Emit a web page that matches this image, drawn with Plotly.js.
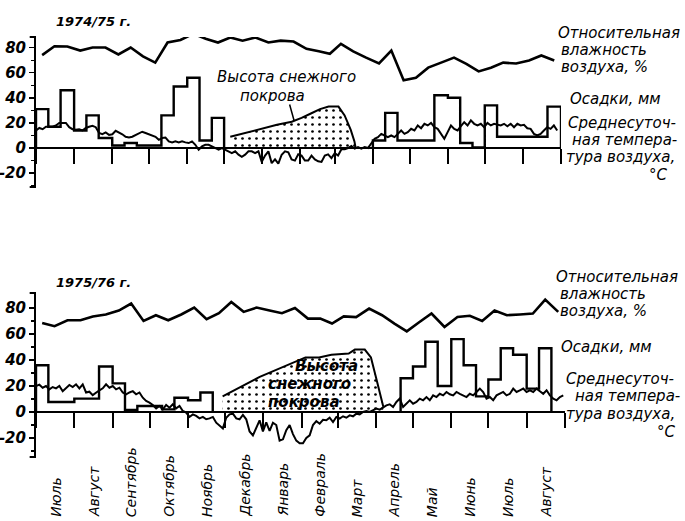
<!DOCTYPE html>
<html><head><meta charset="utf-8">
<script src="https://cdn.plot.ly/plotly-3.0.1.min.js"></script>
<style>html,body{margin:0;padding:0;background:#fff}</style>
</head><body><div id="chart" style="width:685px;height:521px"></div>
<script>
// ---------------- DATA ----------------
const monthLabels = ['Июль','Август','Сентябрь','Октябрь','Ноябрь','Декабрь','Январь','Февраль','Март','Апрель','Май','Июнь','Июль','Август'];
const yTickVals = [-20,0,20,40,60,80];
const yTickText = ['-20','0','20','40','60','80'];

// 10-day (decade) precipitation, mm — 42 decades Jul..Aug (null = not drawn)
const precipTop = [31,17,46, 14,26,8, 2,4,2, 2,26,49, 56,6,24,
  null,null,null, null,null,null, null,null,null, null,null,null,
  6,28,6, 6,6,42, 40,4,0.5, 34,9,9, 9,9,33];
const precipBot = [36,7.7,7.7, 10.3,10.3,35, 22,1.5,4.6, 4.6,2,11, 9,15,null,
  null,null,null, null,null,null, null,null,null, null,null,null,
  null,null,26, 35,54,20, 56,36,12, 25,49,44, 18,49,null];

// 10-day relative humidity, %
const humTop = [74,81,80.8, 77.6,80,80, 74.5,80,73, 68,84,86, 91,87,84, 88,85.5,88,
  84,85.5,84.8, 79,77,75, 83,77,72, 67.3,77.6,54, 56,64,68, 72,67,61, 64,68,67.3, 69.7,73.7,69.7];
const humBot = [68.5,66,70.5, 70.5,73.5,75, 78,83.4,70, 74.4,70.5,75, 80.3,71.3,76, 84.6,77,80.3,
  78,76,80, 71.8,71.8,68, 73.5,73,79.5, 74.4,68,62, 69,75.7,65.4, 73,74,70, 78,74.4,75, 75.7,86.4,77];

// mean daily air temperature, °C — read every 2.7 days from 1 July
const tempStepDays = 2.7;
const tempTop = [14,16,15,17,17,17,18,20,20,20,
  16.6,15,14.5,15,14,16,17,17.7,16.6,12,
  11,12.4,10.5,11,13.7,12.4,11,9,8.4,9,
  10.5,12,13,12,11,10.5,9,6.6,8,8.4,
  5.3,4.5,5.3,4.5,5.3,4.5,4,5.3,2.6,-1.3,
  1.3,2.6,2.6,1.3,0,-1.3,0,-1.3,-2.6,-4,
  -2.6,-5.3,-7,-5.3,-2.6,-2.6,-4,-2.6,-11,-6,
  -2.6,-12,-9,-12.4,-5.3,-2.6,-3.4,-9,-10,-5,
  -6,-10,-10,-6,-9,-10.5,-11,-6,-5,-8,
  -4,-6,-1,-1,0,1.6,-0.5,0.8,-0.5,0.8,
  0,3.4,7.4,8.7,11.3,10,8.7,10,8.7,11.3,
  14,11.3,12.7,15.3,14,18,15.8,19.3,18,20,
  16.6,15.3,11.3,7.4,12.7,18,15.3,14,17.4,20.6,
  18,22,19.3,18,19.3,16.6,20,18,19.3,18.5,
  18,19.3,17.4,19.3,16.6,19.3,18,18.5,15.8,15.3,
  11.3,10,11.3,14,16.6,15.3,18,14];
const tempBot = [20,21,18.7,20,17.4,19.2,18.2,20,16,18.7,
  20.8,19.2,21.3,18.2,21.3,15,15.6,13,15,16.7,
  18.2,21.3,18.7,20,17.4,18.7,15,13.6,15,16,
  13.6,15,11,8.5,7.2,5.4,2.8,4.6,2,5.4,
  3.3,5.9,2.8,4.6,0.8,-0.5,-3.8,-1.8,-3,-4.9,
  -3.8,-5.6,-4.9,-3.8,-8.2,-10.8,-12.6,-4.4,-1.8,-1.3,
  -4.9,-5.6,-2.3,-5.6,-15,-18,-12,-6.4,-15,-8,
  -14.6,-8.2,-10,-22,-21,-14,-10,-17,-22,-24,
  -24,-20,-18,-10,-7,-9,-6,-6.4,-4.4,-7.7,
  -3.8,-5,-3.3,-4.4,-2.6,-3.3,-1.3,-1.8,0,0.8,
  0,1.3,2.6,1.8,3.8,5.1,5.9,3.8,7.7,10.3,
  3.8,6.4,9,6.4,7.7,10.3,9,11.5,9,12.8,
  11.5,14,12.8,15.4,13.6,12.8,15.4,14,12.8,11.5,
  14,12.8,15.4,18,15.4,10.3,11.5,9,12.8,14,
  15.4,12.8,14,18,15.4,16.7,18,15.4,16.7,15.4,
  18,16,14,16.7,12.8,10.3,9,11.5,12.8];

// snow cover height (cm) outline
const snowTopDates = ['1974-12-06','1974-12-18','1975-01-01','1975-01-13','1975-01-25','1975-02-02','1975-02-10','1975-02-17','1975-02-24','1975-03-04','1975-03-09','1975-03-14','1975-03-17','1975-03-18'];
const snowTopVals  = [9,12,15.8,18.5,21,24,27.7,31,33,33,26,14.5,5.3,0];
const snowBotDates = ['1975-11-29','1975-12-13','1975-12-29','1976-01-08','1976-01-22','1976-02-04','1976-02-15','1976-02-25','1976-03-10','1976-03-15','1976-03-23','1976-03-28','1976-04-01','1976-04-05','1976-04-07'];
const snowBotVals  = [12,19,27,31,37,42,42,44,45,48,48,42,27,12,4];

// ---------------- HELPERS ----------------
const DAY = 86400000;
const iso = ms => new Date(ms).toISOString().slice(0,19).replace('T',' ');
function monthStarts(y0){ const a=[]; for(let m=0;m<=14;m++){ a.push(Date.UTC(y0, 6+m, 1)); } return a; }
function decades(y0){
  const d=[];
  for(let m=0;m<14;m++){
    const s=[Date.UTC(y0,6+m,1),Date.UTC(y0,6+m,11),Date.UTC(y0,6+m,21),Date.UTC(y0,7+m,1)];
    for(let k=0;k<3;k++) d.push({start:s[k], end:s[k+1]});
  }
  return d;
}
function stepXY(vals, dec){
  const xs=[], ys=[]; let open=false;
  for(let i=0;i<vals.length;i++){
    const v=vals[i];
    if(v===null){
      if(open){ xs.push(iso(dec[i-1].end), iso(dec[i-1].end), null); ys.push(vals[i-1], 0, null); open=false; }
      continue;
    }
    if(!open){ xs.push(iso(dec[i].start)); ys.push(0); open=true; }
    xs.push(iso(dec[i].start)); ys.push(v);
  }
  if(open){ const L=vals.length-1; xs.push(iso(dec[L].end), iso(dec[L].end)); ys.push(vals[L], 0); }
  return {xs, ys};
}
const FONT = 'DejaVu Sans, Liberation Sans, sans-serif';
const W = 685, H = 521;

function panel(y0, prec, hum, temp, sDates, sVals, xa, ya){
  const dec = decades(y0);
  const st = stepXY(prec, dec);
  const t0 = Date.UTC(y0,6,1);
  return [
    {type:'scatter', mode:'lines', x:sDates, y:sVals, xaxis:xa, yaxis:ya, fill:'tozeroy',
      fillcolor:'rgba(0,0,0,0)',
      fillpattern:{shape:'.', fgcolor:'#000', bgcolor:'rgba(255,255,255,0)', size:7, solidity:0.12},
      line:{color:'#000', width:2}, hoverinfo:'skip'},
    {type:'scatter', mode:'lines', x:st.xs, y:st.ys, xaxis:xa, yaxis:ya, connectgaps:false,
      line:{color:'#000', width:2.4, shape:'hv'}},
    {type:'scatter', mode:'lines', x:dec.map(d=>iso((d.start+d.end)/2)), y:hum, xaxis:xa, yaxis:ya,
      line:{color:'#000', width:2.6}},
    {type:'scatter', mode:'lines', x:temp.map((v,k)=>iso(t0 + k*tempStepDays*DAY)), y:temp, xaxis:xa, yaxis:ya,
      line:{color:'#000', width:2}}
  ];
}

const data = [].concat(
  panel(1974, precipTop, humTop, tempTop, snowTopDates, snowTopVals, 'x', 'y'),
  panel(1975, precipBot, humBot, tempBot, snowBotDates, snowBotVals, 'x2', 'y2')
);

function yAxis(domain, range, anchor){
  return {domain, range, anchor, showline:true, linewidth:2, linecolor:'#000', mirror:false,
    ticks:'outside', ticklen:5, tickwidth:1.5, tickcolor:'#000',
    tickmode:'array', tickvals:yTickVals, ticktext:yTickText,
    minor:{tickmode:'array', tickvals:[-30,-10,10,30,50,70], ticks:'outside', ticklen:3, tickwidth:1.2, tickcolor:'#000'},
    showgrid:false, zeroline:false, fixedrange:true,
    tickfont:{family:FONT, size:15, color:'#000', style:'italic', weight:'bold'}};
}
function xAxis(domain, y0, yDom, yRange){
  const ms = monthStarts(y0);
  const pos = yDom[0] + (0 - yRange[0])/(yRange[1]-yRange[0])*(yDom[1]-yDom[0]);
  return {type:'date', domain, range:[iso(ms[0]), iso(ms[14])], anchor:'free', position:pos,
    showline:true, linewidth:2, linecolor:'#000', ticks:'outside', ticklen:15, tickwidth:2, tickcolor:'#000',
    tickmode:'array', tickvals:ms.map(iso), showticklabels:false, showgrid:false, zeroline:false, fixedrange:true};
}

const yDomTop = [1-187/H, 1-37/H], yRangeTop = [-31, 88.4];
const yDomBot = [1-457/H, 1-293/H], yRangeBot = [-34.6, 91.5];

const ann = [];
function txt(text, px, py, opts){
  ann.push(Object.assign({text, xref:'paper', yref:'paper', x:px/W, y:1-py/H, showarrow:false,
    xanchor:'left', yanchor:'middle', font:{family:FONT, size:15, color:'#000', style:'italic'}}, opts||{}));
}
const bold15 = {family:FONT, size:15, color:'#000', style:'italic', weight:'bold'};
// period titles
txt('1974/75 г.', 54, 22, {font:{family:FONT, size:13, color:'#000', style:'italic', weight:'bold'}});
txt('1975/76 г.', 54, 282, {font:{family:FONT, size:13, color:'#000', style:'italic', weight:'bold'}});
// right-hand legends, top panel
txt('Относительная', 556, 33); txt('влажность', 559, 50); txt('воздуха, %', 559, 67);
txt('Осадки, мм', 568, 99);
txt('Среднесуточ-', 566, 123); txt('ная темпера-', 570, 140); txt('тура воздуха,', 564, 157);
txt('°C', 670, 175, {xanchor:'right'});
// right-hand legends, bottom panel
txt('Относительная', 554, 277); txt('влажность', 558, 294); txt('воздуха, %', 558, 311);
txt('Осадки, мм', 559, 347);
txt('Среднесуточ-', 564, 379); txt('ная темпера-', 573, 396); txt('тура воздуха,', 564, 414);
txt('°C', 678, 432, {xanchor:'right'});
// snow labels
txt('Высота снежного', 286, 77, {xanchor:'center'});
txt('покрова', 272, 96, {xanchor:'center'});
txt('Высота', 326, 366, {xanchor:'center', font:bold15});
txt('снежного', 309, 384, {xanchor:'center', font:bold15});
txt('покрова', 304, 402, {xanchor:'center', font:bold15});
// pointer from label to snow outline (top)
ann.push({xref:'x', yref:'y', x:'1975-01-27', y:21.5, text:'', showarrow:true, arrowhead:0, arrowwidth:1.5,
  arrowcolor:'#000', ax:-5, ay:-18});
// month labels under the bottom panel
const msBot = monthStarts(1975);
monthLabels.forEach((m,i)=>{
  ann.push({text:m, xref:'x2', yref:'paper', x:iso((msBot[i]+msBot[i+1])/2), y:2/H, textangle:-90,
    xanchor:'center', yanchor:'bottom', showarrow:false,
    font:{family:FONT, size:14, color:'#000', style:'italic'}});
});

const shapes = [];
[['y','x'],['y2','x2']].forEach(([ya,xa])=>{
  [0,1].forEach(e=>shapes.push({type:'line', xref:xa+' domain', yref:ya+' domain', x0:-0.012, x1:0, y0:e, y1:e,
    line:{color:'#000', width:2}}));
});

const layout = {
  width:W, height:H, margin:{l:0,r:0,t:0,b:0}, paper_bgcolor:'#fff', plot_bgcolor:'rgba(0,0,0,0)',
  showlegend:false, font:{family:FONT, color:'#000'},
  xaxis: xAxis([36/W, 561/W], 1974, yDomTop, yRangeTop),
  yaxis: yAxis(yDomTop, yRangeTop, 'x'),
  xaxis2: xAxis([36/W, 565/W], 1975, yDomBot, yRangeBot),
  yaxis2: yAxis(yDomBot, yRangeBot, 'x2'),
  annotations: ann, shapes
};
Plotly.newPlot('chart', data, layout, {staticPlot:true, displayModeBar:false});
</script></body></html>
